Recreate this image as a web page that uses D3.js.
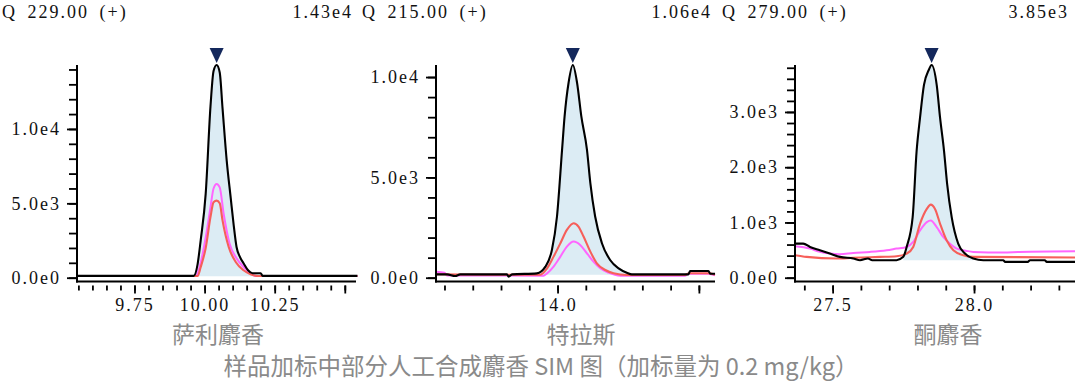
<!DOCTYPE html>
<html><head><meta charset="utf-8">
<script src="https://cdn.jsdelivr.net/npm/d3@7"></script>
<style>
html,body{margin:0;padding:0;background:#fff;}
svg{display:block;}
.num{font-family:"Liberation Serif","DejaVu Serif",serif;font-size:18px;letter-spacing:2px;fill:#111;}
.cjk{font-family:"Noto Sans CJK SC",sans-serif;fill:#8a8a8a;}
</style></head>
<body>
<svg id="c" width="1080" height="381"></svg>
<script>
// ---------- data ----------
const compounds = ["萨利麝香", "特拉斯", "酮麝香"];
const headerLabels = ["Q 229.00 (+)", "Q 215.00 (+)", "Q 279.00 (+)"];
const maxLabels = ["1.43e4", "1.06e4", "3.85e3"];
const yMax = [14300, 10600, 3850];
const xDomains = [[9.545, 10.54], [13.57, 14.557], [27.367, 28.357]];
const peakTimes = [10.043, 14.054, 27.850];
const fillRanges = [[9.961, 10.207, 100], [13.927, 14.263, 150], [27.745, 28.0, 317]];
// tick values
const yMinorTicks = [d3.range(0, 14001, 1000), d3.range(0, 10001, 1000), d3.range(0, 3801, 200)];
const yMajorTicks = [[0, 5000, 10000], [0, 5000, 10000], [0, 1000, 2000, 3000]];
const yTickLabels = [["0.0e0", "5.0e3", "1.0e4"], ["0.0e0", "5.0e3", "1.0e4"], ["0.0e0", "1.0e3", "2.0e3", "3.0e3"]];
const xMinorTicks = [d3.range(0, 20).map(i => 9.55 + i * 0.05), d3.range(0, 10).map(i => 13.6 + i * 0.1), d3.range(0, 10).map(i => 27.4 + i * 0.1)];
const xMajorTicks = [[9.75, 10.0, 10.25, 10.5], [14.0, 14.5], [27.5, 28.0]];
const xTickLabels = [["9.75", "10.00", "10.25", ""], ["14.0", ""], ["27.5", "28.0"]];
const caption = "样品加标中部分人工合成麝香 SIM 图（加标量为 0.2 mg/kg）";

// series: [time, intensity]
const salBlack = [[9.545,120],[9.961,120],[9.975,900],[9.986,2500],[10.004,5650],[10.021,11500],[10.032,13900],[10.043,14300],[10.054,13800],[10.064,11400],[10.079,7860],[10.093,5400],[10.104,3500],[10.114,2060],[10.126,1400],[10.139,970],[10.155,500],[10.171,300],[10.200,300],[10.207,120],[10.545,120]];
const salRed = [[9.545,110],[9.975,110],[9.986,700],[10.004,2000],[10.021,4070],[10.032,5070],[10.043,5180],[10.054,5000],[10.064,3850],[10.086,2060],[10.111,1060],[10.139,500],[10.164,230],[10.193,110],[10.545,110]];
const salMagenta = [[9.545,110],[9.968,110],[9.986,1000],[10.004,2700],[10.021,4730],[10.032,6000],[10.043,6300],[10.054,6070],[10.068,4300],[10.089,2300],[10.114,1300],[10.139,720],[10.164,300],[10.182,110],[10.545,110]];

const traBlack = [[13.571,167],[13.609,167],[13.638,83],[13.656,167],[13.821,167],[13.827,50],[13.839,167],[13.927,217],[13.957,550],[13.980,1383],[13.998,3050],[14.016,6383],[14.025,8050],[14.039,9717],[14.054,10600],[14.069,9717],[14.084,8050],[14.104,6383],[14.116,4717],[14.133,3050],[14.157,1717],[14.186,883],[14.216,467],[14.245,250],[14.263,167],[14.463,167],[14.469,333],[14.534,333],[14.540,200],[14.557,200]];
const traRed = [[13.571,170],[13.75,150],[13.939,150],[13.963,467],[13.986,1050],[14.010,1717],[14.033,2383],[14.057,2717],[14.074,2550],[14.092,2050],[14.116,1300],[14.139,717],[14.169,383],[14.198,217],[14.245,133],[14.45,133],[14.465,220],[14.534,220],[14.557,150]];
const traMagenta = [[13.571,300],[13.600,250],[13.609,110],[13.950,100],[13.963,217],[13.986,550],[14.010,1050],[14.033,1550],[14.057,1800],[14.080,1633],[14.104,1217],[14.127,800],[14.151,467],[14.180,250],[14.222,100],[14.45,100],[14.465,200],[14.534,200],[14.557,120]];

const musBlack = [[27.367,617],[27.396,617],[27.42,557],[27.455,497],[27.49,437],[27.526,377],[27.573,347],[27.597,317],[27.625,347],[27.64,317],[27.726,317],[27.750,377],[27.762,560],[27.783,1096],[27.797,2293],[27.809,2892],[27.823,3491],[27.84,3760],[27.850,3850],[27.868,3491],[27.880,2892],[27.894,2293],[27.905,1695],[27.921,1096],[27.944,617],[27.968,437],[27.997,347],[28.033,317],[28.103,317],[28.11,287],[28.19,287],[28.198,317],[28.25,317],[28.257,287],[28.357,287]];
const musRed = [[27.367,407],[27.408,377],[27.514,347],[27.573,360],[27.667,377],[27.726,389],[27.762,437],[27.785,557],[27.809,976],[27.833,1245],[27.847,1323],[27.862,1245],[27.880,976],[27.903,677],[27.927,497],[27.962,407],[27.997,377],[28.357,365]];
const musMagenta = [[27.367,569],[27.420,527],[27.455,467],[27.49,437],[27.526,425],[27.573,449],[27.632,467],[27.691,497],[27.726,527],[27.762,557],[27.785,647],[27.809,856],[27.833,1006],[27.847,1036],[27.868,916],[27.891,737],[27.915,617],[27.939,527],[27.974,485],[27.997,467],[28.103,455],[28.162,467],[28.357,479]];

const blackSeries = [salBlack, traBlack, musBlack];
const redSeries = [salRed, traRed, musRed];
const magentaSeries = [salMagenta, traMagenta, musMagenta];

// ---------- layout ----------
const panels = [
  {left: 77, right: 356, hdrL: 2, hdrR: 353, nameX: 218},
  {left: 436, right: 715, hdrL: 362, hdrR: 712, nameX: 581},
  {left: 795, right: 1075, hdrL: 722, hdrR: 1069, nameX: 948}
];
const yTop = 65, yZero = 277.7, xAxisY = 281.5;
const colors = {black: "#000000", red: "#f65f5a", magenta: "#ff66ff", fill: "#dcecf4", marker: "#14285c"};

const svg = d3.select("#c");

panels.forEach((p, i) => {
  const g = svg.append("g");
  const x = d3.scaleLinear().domain(xDomains[i]).range([p.left, p.right]);
  const y = d3.scaleLinear().domain([0, yMax[i]]).range([yZero, yTop]);

  // fill under main trace
  const [f0, f1, base] = fillRanges[i];
  const fillPts = blackSeries[i].filter(d => d[0] >= f0 && d[0] <= f1);
  g.append("path").datum(fillPts)
    .attr("fill", colors.fill)
    .attr("d", d3.area().x(d => x(d[0])).y0(y(base)).y1(d => y(d[1])).curve(d3.curveMonotoneX));

  const line = d3.line().x(d => x(d[0])).y(d => y(d[1])).curve(d3.curveMonotoneX);
  g.append("path").datum(magentaSeries[i]).attr("fill", "none").attr("stroke", colors.magenta).attr("stroke-width", 2).attr("d", line);
  g.append("path").datum(redSeries[i]).attr("fill", "none").attr("stroke", colors.red).attr("stroke-width", 2.1).attr("d", line);
  g.append("path").datum(blackSeries[i]).attr("fill", "none").attr("stroke", colors.black).attr("stroke-width", 2.1).attr("stroke-linejoin", "round").attr("d", line);

  // peak marker
  const px = x(peakTimes[i]), py = y(yMax[i]) - 2;
  g.append("path").attr("fill", colors.marker)
    .attr("d", `M${px - 7},${py - 15}L${px + 7},${py - 15}L${px},${py}Z`);

  // y axis
  const yMinor = d3.axisLeft(y).tickValues(yMinorTicks[i]).tickSize(8).tickFormat("");
  const gy1 = g.append("g").attr("transform", `translate(${p.left},0)`).call(yMinor);
  gy1.select(".domain").remove();
  const yMajor = d3.axisLeft(y).tickValues(yMajorTicks[i]).tickSize(10).tickPadding(6)
    .tickFormat((d, k) => yTickLabels[i][k]);
  const gy2 = g.append("g").attr("transform", `translate(${p.left},0)`).call(yMajor);
  gy2.select(".domain").remove();
  gy2.selectAll("text").attr("class", "num").attr("font-size", null).attr("font-family", null).attr("fill", null);
  g.selectAll(".tick line").attr("stroke", "#000").attr("stroke-width", 1.8);
  g.append("line").attr("x1", p.left).attr("x2", p.left).attr("y1", yTop).attr("y2", xAxisY + 1)
    .attr("stroke", "#000").attr("stroke-width", 2);

  // x axis
  g.append("line").attr("x1", p.left - 1).attr("x2", p.right).attr("y1", xAxisY).attr("y2", xAxisY)
    .attr("stroke", "#000").attr("stroke-width", 2);
  const xMinor = d3.axisBottom(x).tickValues(xMinorTicks[i]).tickSize(5).tickFormat("");
  const gx1 = g.append("g").attr("transform", `translate(0,${xAxisY + 4})`).call(xMinor);
  gx1.select(".domain").remove();
  const xMajor = d3.axisBottom(x).tickValues(xMajorTicks[i]).tickSize(8).tickPadding(5)
    .tickFormat((d, k) => xTickLabels[i][k]);
  const gx2 = g.append("g").attr("transform", `translate(0,${xAxisY + 4})`).call(xMajor);
  gx2.select(".domain").remove();
  gx2.selectAll("text").attr("class", "num").attr("font-size", null).attr("font-family", null).attr("fill", null);
  gx1.selectAll(".tick line").attr("stroke", "#000").attr("stroke-width", 1.8);
  gx2.selectAll(".tick line").attr("stroke", "#000").attr("stroke-width", 1.8);

  // headers
  g.append("text").attr("class", "num").attr("x", p.hdrL).attr("y", 18).style("word-spacing", "4px").text(headerLabels[i]);
  g.append("text").attr("class", "num").attr("x", p.hdrR).attr("y", 18).attr("text-anchor", "end").text(maxLabels[i]);

  // compound name
  g.append("text").attr("class", "cjk").attr("x", p.nameX).attr("y", 342.5).attr("text-anchor", "middle")
    .attr("font-size", 23).text(compounds[i]);
});

svg.append("text").attr("class", "cjk").attr("x", 541).attr("y", 375).attr("text-anchor", "middle")
  .attr("font-size", 23.5).text(caption);
</script>
</body></html>
